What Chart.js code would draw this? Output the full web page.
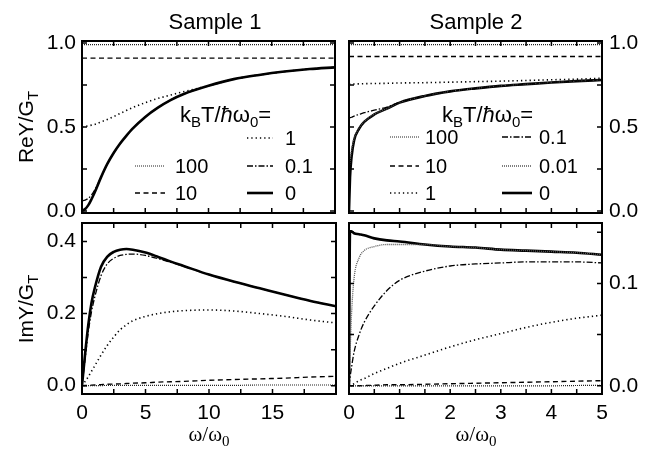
<!DOCTYPE html>
<html>
<head>
<meta charset="utf-8">
<script src="https://cdn.jsdelivr.net/npm/chart.js@4.4.1/dist/chart.umd.min.js"></script>
<style>
body { margin: 0; background: #fff; }
#wrap { position: relative; width: 648px; height: 449px; font-family: "Liberation Sans", Arial, sans-serif; color: #000; }
canvas { position: absolute; left: 0; top: 0; }
.lbl { position: absolute; font-size: 21px; line-height: 1; white-space: nowrap; }
.lbl sub { font-size: 15px; vertical-align: -5px; line-height: 0; }
.ytitle { transform: translate(-50%, -50%) rotate(-90deg); }
.xtitle { font-family: "Liberation Serif", serif; font-size: 21px; width: 200px; text-align: center; }
.title { font-size: 22px; width: 200px; text-align: center; }
</style>
</head>
<body>
<div id="wrap">
  <canvas id="c1" width="648" height="449"></canvas>
  <canvas id="c2" width="648" height="449"></canvas>
  <canvas id="c3" width="648" height="449"></canvas>
  <canvas id="c4" width="648" height="449"></canvas>
  <div class="lbl title" style="left:115px;top:11px">Sample 1</div>
  <div class="lbl title" style="left:376px;top:11px">Sample 2</div>
  <div class="lbl ytitle" style="left:25px;top:127px">ReY/G<sub>T</sub></div>
  <div class="lbl ytitle" style="left:25px;top:309px">ImY/G<sub>T</sub></div>
  <div class="lbl xtitle" style="left:109px;top:424px">ω/ω<sub>0</sub></div>
  <div class="lbl xtitle" style="left:376px;top:424px">ω/ω<sub>0</sub></div>
</div>
<script>
// frequencies (omega/omega0)
const x1 = [0, 0.25, 0.5, 0.75, 1, 1.5, 2, 2.5, 3, 3.5, 4, 5, 6, 7, 8, 10, 12, 14, 16, 18, 20];
const x2 = [0, 0.02, 0.05, 0.1, 0.2, 0.3, 0.5, 0.75, 1, 1.5, 2, 2.5, 3, 3.5, 4, 4.5, 5];

// Sample 1, ReY/GT
const re1_100 = [0.99, 0.99, 0.99, 0.99, 0.99, 0.99, 0.99, 0.99, 0.99, 0.99, 0.99, 0.99, 0.99, 0.99, 0.99, 0.99, 0.99, 0.99, 0.99, 0.99, 0.99];
const re1_10 = [0.91, 0.91, 0.91, 0.91, 0.91, 0.91, 0.91, 0.91, 0.91, 0.91, 0.91, 0.91, 0.91, 0.91, 0.91, 0.91, 0.91, 0.91, 0.91, 0.91, 0.91];
const re1_1 = [0.5, 0.503, 0.507, 0.511, 0.515, 0.53, 0.545, 0.562, 0.58, 0.598, 0.615, 0.645, 0.67, 0.69, 0.71, 0.745, 0.785, 0.81, 0.83, 0.845, 0.855];
const re1_01 = [0.06, 0.065, 0.075, 0.095, 0.125, 0.2, 0.28, 0.345, 0.4, 0.447, 0.49, 0.56, 0.615, 0.66, 0.695, 0.745, 0.785, 0.81, 0.83, 0.845, 0.855];
const re1_0 = [0, 0.012, 0.035, 0.07, 0.11, 0.2, 0.28, 0.345, 0.4, 0.447, 0.49, 0.56, 0.615, 0.66, 0.695, 0.745, 0.785, 0.81, 0.83, 0.845, 0.855];

// Sample 1, ImY/GT
const im1_100 = [0, 0, 0, 0, 0, 0, 0.001, 0.001, 0.001, 0.001, 0.001, 0.001, 0.001, 0.001, 0.001, 0.001, 0.001, 0.002, 0.002, 0.002, 0.002];
const im1_10 = [0, 0.0005, 0.001, 0.0015, 0.002, 0.003, 0.004, 0.0045, 0.005, 0.006, 0.007, 0.008, 0.01, 0.011, 0.012, 0.015, 0.017, 0.019, 0.021, 0.024, 0.026];
const im1_1 = [0, 0.012, 0.025, 0.04, 0.055, 0.085, 0.112, 0.135, 0.155, 0.169, 0.18, 0.192, 0.2, 0.205, 0.208, 0.21, 0.207, 0.2, 0.192, 0.182, 0.174];
const im1_01 = [0, 0.075, 0.15, 0.205, 0.245, 0.305, 0.338, 0.353, 0.361, 0.364, 0.365, 0.361, 0.352, 0.342, 0.331, 0.308, 0.288, 0.27, 0.252, 0.235, 0.22];
const im1_0 = [0, 0.09, 0.17, 0.23, 0.27, 0.33, 0.358, 0.371, 0.377, 0.379, 0.377, 0.369, 0.357, 0.344, 0.332, 0.308, 0.288, 0.27, 0.252, 0.235, 0.22];

// Sample 2, ReY/GT
const re2_100 = [0.99, 0.99, 0.99, 0.99, 0.99, 0.99, 0.99, 0.99, 0.99, 0.99, 0.99, 0.99, 0.99, 0.99, 0.99, 0.99, 0.99];
const re2_10 = [0.92, 0.92, 0.92, 0.92, 0.92, 0.92, 0.92, 0.92, 0.92, 0.92, 0.92, 0.92, 0.92, 0.92, 0.92, 0.92, 0.92];
const re2_1 = [0.755, 0.755, 0.755, 0.756, 0.757, 0.758, 0.759, 0.76, 0.762, 0.764, 0.767, 0.77, 0.773, 0.777, 0.781, 0.785, 0.79];
const re2_01 = [0.555, 0.556, 0.558, 0.565, 0.575, 0.585, 0.6, 0.618, 0.647, 0.685, 0.712, 0.73, 0.745, 0.755, 0.765, 0.773, 0.78];
const re2_001 = [0.25, 0.3, 0.36, 0.43, 0.495, 0.532, 0.576, 0.61, 0.645, 0.685, 0.712, 0.73, 0.745, 0.755, 0.765, 0.773, 0.78];
const re2_0 = [0, 0.2, 0.32, 0.42, 0.49, 0.53, 0.575, 0.61, 0.645, 0.685, 0.712, 0.73, 0.745, 0.755, 0.765, 0.773, 0.78];

// Sample 2, ImY/GT
const im2_100 = [0, 0, 0, 0, 0, 0, 0, 0, 0, 0, 0, 0, 0, 0, 0, 0.0003, 0.0005];
const im2_10 = [0, 0, 0, 0, 0, 0.0003, 0.0005, 0.001, 0.001, 0.0015, 0.002, 0.0025, 0.003, 0.0035, 0.004, 0.0045, 0.005];
const im2_1 = [0, 0.0005, 0.001, 0.002, 0.005, 0.007, 0.012, 0.017, 0.022, 0.03, 0.038, 0.045, 0.051, 0.057, 0.062, 0.066, 0.069];
const im2_01 = [0, 0.008, 0.018, 0.033, 0.05, 0.062, 0.078, 0.093, 0.103, 0.112, 0.117, 0.119, 0.12, 0.121, 0.121, 0.121, 0.12];
const im2_001 = [0, 0.03, 0.07, 0.105, 0.125, 0.132, 0.136, 0.138, 0.138, 0.138, 0.136, 0.135, 0.133, 0.132, 0.131, 0.13, 0.128];
const im2_0 = [0, 0.151, 0.151, 0.149, 0.148, 0.147, 0.144, 0.142, 0.141, 0.138, 0.136, 0.135, 0.133, 0.132, 0.131, 0.13, 0.128];

// tick values
const xTicks1 = [0, 5, 10, 15];
const xMinor1 = [0, 2.5, 5, 7.5, 10, 12.5, 15, 17.5, 20];
const xTicks2 = [0, 1, 2, 3, 4, 5];
const xMinor2 = [0, 0.5, 1, 1.5, 2, 2.5, 3, 3.5, 4, 4.5, 5];
const reTicks = [0, 0.5, 1];
const reMinor = [0, 0.25, 0.5, 0.75, 1];
const imTicks1 = [0, 0.2, 0.4];
const imMinor1 = [0, 0.1, 0.2, 0.3, 0.4];
const imTicks2 = [0, 0.1];
const imMinor2 = [0, 0.05, 0.1, 0.15];

const FONT = '"Liberation Sans", Arial, sans-serif';

const styles = {
  "100": { dash: [1, 1], width: 1.2, color: "#222" },
  "10": { dash: [5, 3.5], width: 1.4, color: "#000" },
  "1": { dash: [1.3, 3], width: 1.6, color: "#000" },
  "0.1": { dash: [6, 2, 1.5, 2], width: 1.3, color: "#000" },
  "0.01": { dash: [1, 1], width: 1.3, color: "#555" },
  "0": { dash: [], width: 2.6, color: "#000" }
};

function makeSet(label, xs, ys) {
  const s = styles[label];
  return {
    label: label,
    data: xs.map((x, i) => ({ x: x, y: ys[i] })),
    borderColor: s.color,
    borderWidth: s.width,
    borderDash: s.dash,
    pointRadius: 0,
    fill: false,
    cubicInterpolationMode: "monotone"
  };
}

const framePlugin = {
  id: "frame",
  afterDatasetsDraw(chart, args, opts) {
    const ctx = chart.ctx;
    const a = chart.chartArea;
    const x = chart.scales.x, y = chart.scales.y;
    ctx.save();
    ctx.strokeStyle = "#000";
    ctx.lineWidth = 1.5;
    ctx.beginPath();
    opts.xMinor.forEach(v => {
      const px = x.getPixelForValue(v);
      ctx.moveTo(px, a.bottom); ctx.lineTo(px, a.bottom - 5);
      ctx.moveTo(px, a.top); ctx.lineTo(px, a.top + 5);
    });
    opts.yMinor.forEach(v => {
      const py = y.getPixelForValue(v);
      ctx.moveTo(a.left, py); ctx.lineTo(a.left + 5, py);
      ctx.moveTo(a.right, py); ctx.lineTo(a.right - 5, py);
    });
    ctx.stroke();
    ctx.lineWidth = 2;
    ctx.strokeRect(a.left, a.top, a.right - a.left, a.bottom - a.top);
    ctx.restore();
  }
};

function richText(ctx, x, y, parts) {
  parts.forEach(p => {
    ctx.font = p.font;
    ctx.fillText(p.t, x, y + (p.dy || 0));
    x += ctx.measureText(p.t).width;
  });
}

const legendPlugin = {
  id: "tlegend",
  afterDraw(chart, args, opts) {
    if (!opts.entries) return;
    const ctx = chart.ctx;
    ctx.save();
    ctx.fillStyle = "#000";
    ctx.textBaseline = "alphabetic";
    richText(ctx, opts.hx, opts.hy, [
      { t: "k", font: "22px " + FONT },
      { t: "B", font: "15px " + FONT, dy: 5 },
      { t: "T/", font: "22px " + FONT },
      { t: "ħ", font: "italic 22px " + FONT },
      { t: "ω", font: "22px " + FONT },
      { t: "0", font: "15px " + FONT, dy: 5 },
      { t: "=", font: "22px " + FONT }
    ]);
    ctx.textBaseline = "middle";
    ctx.font = "20px " + FONT;
    opts.entries.forEach(e => {
      const s = styles[e.label];
      ctx.beginPath();
      ctx.setLineDash(s.dash);
      ctx.lineWidth = s.width;
      ctx.strokeStyle = s.color;
      ctx.moveTo(e.x0, e.y); ctx.lineTo(e.x1, e.y);
      ctx.stroke();
      ctx.setLineDash([]);
      ctx.fillText(e.label, e.tx, e.y + 1);
    });
    ctx.restore();
  }
};

function panel(id, cfg) {
  const yScale = {
    type: "linear",
    position: cfg.yPos,
    min: cfg.yMin,
    max: cfg.yMax,
    afterBuildTicks: s => { s.ticks = cfg.yTicks.map(v => ({ value: v })); },
    afterFit: s => { s.width = cfg.yPos === "left" ? 60 : 40; },
    grid: { display: false, drawTicks: false },
    border: { display: false },
    ticks: {
      color: "#000",
      font: { family: FONT, size: 21 },
      padding: cfg.yPos === "left" ? 6 : 7,
      callback: v => v.toFixed(1)
    }
  };
  const xScale = {
    type: "linear",
    min: cfg.xMin,
    max: cfg.xMax,
    display: cfg.showX,
    afterBuildTicks: s => { s.ticks = cfg.xTicks.map(v => ({ value: v })); },
    grid: { display: false, drawTicks: false },
    border: { display: false },
    ticks: {
      color: "#000",
      font: { family: FONT, size: 21 },
      padding: 7,
      maxRotation: 0,
      callback: v => String(v)
    }
  };
  if (cfg.showX) xScale.afterFit = s => { s.height = 40; };
  return new Chart(document.getElementById(id), {
    type: "line",
    data: { datasets: cfg.sets },
    options: {
      responsive: false,
      animation: false,
      events: [],
      layout: { padding: cfg.pad },
      scales: { x: xScale, y: yScale },
      plugins: {
        legend: { display: false },
        tooltip: { enabled: false },
        frame: { xMinor: cfg.xMinor, yMinor: cfg.yMinor },
        tlegend: cfg.legend || {}
      }
    },
    plugins: [framePlugin, legendPlugin]
  });
}

panel("c1", {
  sets: [makeSet("100", x1, re1_100), makeSet("10", x1, re1_10), makeSet("1", x1, re1_1),
         makeSet("0.1", x1, re1_01), makeSet("0", x1, re1_0)],
  xMin: 0, xMax: 20, yMin: -0.012, yMax: 1.012, yPos: "left", showX: false,
  xTicks: xTicks1, xMinor: xMinor1, yTicks: reTicks, yMinor: reMinor,
  pad: { left: 22, right: 313, top: 41, bottom: 236 },
  legend: {
    hx: 180, hy: 122,
    entries: [
      { label: "1", x0: 247, x1: 273, tx: 285, y: 138 },
      { label: "100", x0: 135, x1: 165, tx: 175, y: 166 },
      { label: "0.1", x0: 247, x1: 273, tx: 285, y: 166 },
      { label: "10", x0: 135, x1: 165, tx: 175, y: 193 },
      { label: "0", x0: 247, x1: 273, tx: 285, y: 193 }
    ]
  }
});

panel("c2", {
  sets: [makeSet("100", x2, re2_100), makeSet("10", x2, re2_10), makeSet("1", x2, re2_1),
         makeSet("0.1", x2, re2_01), makeSet("0.01", x2, re2_001), makeSet("0", x2, re2_0)],
  xMin: 0, xMax: 5, yMin: -0.012, yMax: 1.012, yPos: "right", showX: false,
  xTicks: xTicks2, xMinor: xMinor2, yTicks: reTicks, yMinor: reMinor,
  pad: { left: 349, right: 6, top: 41, bottom: 236 },
  legend: {
    hx: 442, hy: 122,
    entries: [
      { label: "100", x0: 390, x1: 419, tx: 425, y: 137 },
      { label: "0.1", x0: 502, x1: 532, tx: 539, y: 137 },
      { label: "10", x0: 390, x1: 419, tx: 425, y: 166 },
      { label: "0.01", x0: 502, x1: 532, tx: 539, y: 166 },
      { label: "1", x0: 390, x1: 419, tx: 425, y: 193 },
      { label: "0", x0: 502, x1: 532, tx: 539, y: 193 }
    ]
  }
});

panel("c3", {
  sets: [makeSet("100", x1, im1_100), makeSet("10", x1, im1_10), makeSet("1", x1, im1_1),
         makeSet("0.1", x1, im1_01), makeSet("0", x1, im1_0)],
  xMin: 0, xMax: 20, yMin: -0.023, yMax: 0.451, yPos: "left", showX: true,
  xTicks: xTicks1, xMinor: xMinor1, yTicks: imTicks1, yMinor: imMinor1,
  pad: { left: 22, right: 312, top: 223, bottom: 15 }
});

panel("c4", {
  sets: [makeSet("100", x2, im2_100), makeSet("10", x2, im2_10), makeSet("1", x2, im2_1),
         makeSet("0.1", x2, im2_01), makeSet("0.01", x2, im2_001), makeSet("0", x2, im2_0)],
  xMin: 0, xMax: 5, yMin: -0.008, yMax: 0.159, yPos: "right", showX: true,
  xTicks: xTicks2, xMinor: xMinor2, yTicks: imTicks2, yMinor: imMinor2,
  pad: { left: 349, right: 6, top: 223, bottom: 15 }
});
</script>
</body>
</html>
